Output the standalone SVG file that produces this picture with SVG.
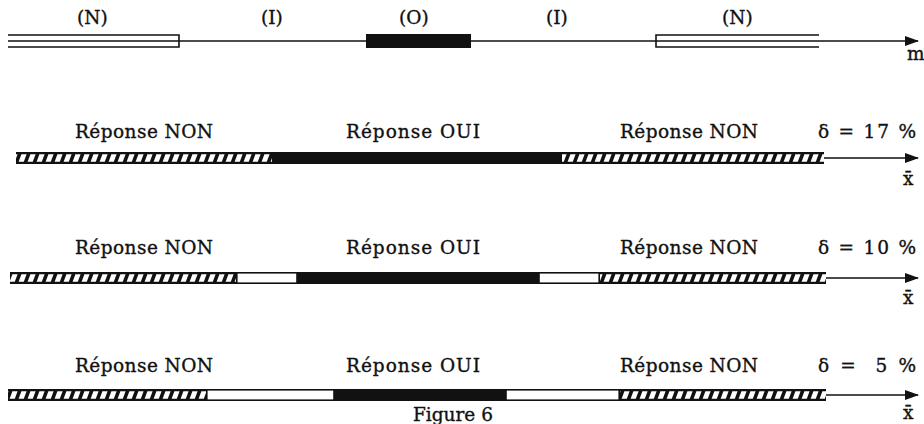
<svg xmlns="http://www.w3.org/2000/svg" width="924" height="424" viewBox="0 0 924 424">
<style>
text{font-family:"DejaVu Serif","Liberation Serif",serif;font-size:18.5px;fill:#111;stroke:#111;stroke-width:0.35}
.ln{stroke:#111;stroke-width:1.6;fill:none}
.ax{stroke:#111;stroke-width:1.5;fill:none}
.blk{fill:#111}
.wht{fill:#fff;stroke:#111;stroke-width:1.6}
</style>
<defs>
<marker id="arr" markerWidth="14" markerHeight="10" refX="13" refY="5" orient="auto" markerUnits="userSpaceOnUse">
<path d="M0,0 L14,5 L0,10 z" fill="#111"/>
</marker>
<pattern id="hatch" patternUnits="userSpaceOnUse" width="9" height="12">
<rect width="9" height="12" fill="#111"/>
<polygon points="0.6,9.8 5.8,9.8 8.6,2.2 3.4,2.2" fill="#fff"/>
</pattern>
</defs>

<g id="axis-m">
<text x="77" y="24">(N)</text>
<text x="261" y="24">(I)</text>
<text x="399" y="24">(O)</text>
<text x="546" y="24">(I)</text>
<text x="722" y="24">(N)</text>
<g id="seg-N-left">
<path class="ln" d="M8,35 H179 M8,47 H179 M179,34.2 V47.8 M8,41 H179"/>
</g>
<g id="seg-O">
<rect class="blk" x="366" y="34" width="105" height="14"/>
</g>
<g id="seg-N-right">
<path class="ln" d="M656,35 H819 M656,47 H819 M656,34.2 V47.8"/>
</g>
<text x="907" y="60">m</text>
</g>

<g id="connectors">
<path class="ax" d="M179,41 H918" marker-end="url(#arr)"/>
<path class="ax" d="M824,158 H918" marker-end="url(#arr)"/>
<path class="ax" d="M826,278 H918" marker-end="url(#arr)"/>
<path class="ax" d="M826,395 H918" marker-end="url(#arr)"/>
</g>

<g id="row-17">
<text x="75" y="138" textLength="138">Réponse NON</text>
<text x="346" y="138" textLength="134">Réponse OUI</text>
<text x="620" y="138" textLength="138">Réponse NON</text>
<text x="818" y="138" textLength="98">δ = 17 %</text>
<g transform="translate(0,152)">
<rect x="16" y="0" width="256" height="12" fill="url(#hatch)"/>
<rect class="blk" x="272" y="0" width="290" height="12"/>
<rect x="562" y="0" width="262" height="12" fill="url(#hatch)"/>
</g>
<text x="903" y="185">x̄</text>
</g>

<g id="row-10">
<text x="75" y="254" textLength="138">Réponse NON</text>
<text x="346" y="254" textLength="134">Réponse OUI</text>
<text x="620" y="254" textLength="138">Réponse NON</text>
<text x="818" y="254" textLength="98">δ = 10 %</text>
<g transform="translate(0,272)">
<rect x="10" y="0" width="226" height="12" fill="url(#hatch)"/>
<rect class="wht" x="236.8" y="0.8" width="60.2" height="10.4"/>
<rect class="blk" x="297" y="0" width="242" height="12"/>
<rect class="wht" x="539" y="0.8" width="60.2" height="10.4"/>
<rect x="600" y="0" width="226" height="12" fill="url(#hatch)"/>
</g>
<text x="903" y="304">x̄</text>
</g>

<g id="row-5">
<text x="75" y="372" textLength="138">Réponse NON</text>
<text x="346" y="372" textLength="134">Réponse OUI</text>
<text x="620" y="372" textLength="138">Réponse NON</text>
<text x="818" y="372" textLength="98" xml:space="preserve">δ =  5 %</text>
<g transform="translate(0,389)">
<rect x="8" y="0" width="198" height="12" fill="url(#hatch)"/>
<rect class="wht" x="206.8" y="0.8" width="127.2" height="10.4"/>
<rect class="blk" x="334" y="0" width="172" height="12"/>
<rect class="wht" x="506" y="0.8" width="113.2" height="10.4"/>
<rect x="620" y="0" width="206" height="12" fill="url(#hatch)"/>
</g>
<text x="903" y="419">x̄</text>
</g>

<g id="caption">
<text x="413" y="421">Figure 6</text>
</g>
</svg>
